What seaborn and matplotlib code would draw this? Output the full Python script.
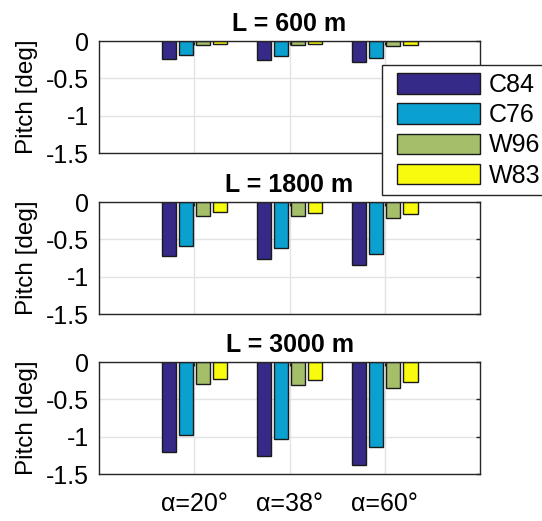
import pandas as pd
import matplotlib
matplotlib.use("Agg")
import matplotlib.pyplot as plt
import seaborn as sns
from matplotlib.patches import Patch, Rectangle

# data
angles = ["α=20°", "α=38°", "α=60°"]
series = ["C84", "C76", "W96", "W83"]
lengths = ["L = 600 m", "L = 1800 m", "L = 3000 m"]
colors = ["#352A87", "#0AA0D0", "#A5BE6A", "#F9FB0E"]

pitch_600 = [[-0.24, -0.19, -0.05, -0.035],
             [-0.25, -0.20, -0.06, -0.04],
             [-0.28, -0.23, -0.07, -0.05]]
pitch_1800 = [[-0.72, -0.59, -0.18, -0.13],
              [-0.76, -0.62, -0.19, -0.14],
              [-0.84, -0.69, -0.21, -0.16]]
pitch_3000 = [[-1.20, -0.98, -0.30, -0.23],
              [-1.26, -1.03, -0.31, -0.24],
              [-1.38, -1.14, -0.35, -0.26]]

panels = [pitch_600, pitch_1800, pitch_3000]

sns.set_theme(style="white")
plt.rcParams['font.family'] = ['Liberation Sans', 'DejaVu Sans']
plt.rcParams['axes.unicode_minus'] = False
plt.rcParams['text.color'] = 'black'
plt.rcParams['axes.labelcolor'] = 'black'

fig = plt.figure(figsize=(5.42, 5.21), dpi=100)
bottoms = [0.7063, 0.397, 0.090]
axes = [fig.add_axes([0.1827, b, 0.703, 0.215]) for b in bottoms]

for i, ax in enumerate(axes):
    rows = []
    for a, vals in zip(angles, panels[i]):
        for s, v in zip(series, vals):
            rows.append({"angle": a, "series": s, "pitch": v})
    df = pd.DataFrame(rows)
    ax.set_axisbelow(True)
    sns.barplot(data=df, x="angle", y="pitch", hue="series", order=angles,
                hue_order=series, palette=colors, width=0.72, gap=0.18,
                edgecolor="#1a1a1a", linewidth=1, saturation=1,
                legend=False, ax=ax)
    ax.grid(True, axis="both", color="#e3e3e3", linewidth=1)
    ax.set_xlim(-1, 3)
    ax.set_ylim(-1.5, 0)
    ax.set_yticks([0, -0.5, -1, -1.5])
    ax.set_yticklabels(["0", "-0.5", "-1", "-1.5"])
    ax.set_xlabel("")
    ax.set_ylabel("Pitch [deg]", fontsize=17.5, labelpad=6)
    ax.set_title(lengths[i], fontsize=18, fontweight="bold", pad=7.5)
    ax.tick_params(direction="in", length=3, width=1, colors="#262626",
                   top=True, right=True, labelsize=18)
    ax.tick_params(axis="y", pad=7)
    ax.tick_params(axis="x", pad=13)
    for sp in ax.spines.values():
        sp.set_color("#262626")
        sp.set_linewidth(1)
    if i < 2:
        ax.set_xticklabels([])
    for lab in ax.get_xticklabels() + ax.get_yticklabels():
        lab.set_color("black")

# legend box runs off the right edge of the figure, as in the original
frame = Rectangle((382 / 542, 1 - 195 / 521), 0.4, 130 / 521,
                  transform=fig.transFigure, facecolor="white",
                  edgecolor="#262626", linewidth=1, zorder=4)
fig.add_artist(frame)

handles = [Patch(facecolor=c, edgecolor="#1a1a1a", linewidth=1, label=s)
           for c, s in zip(colors, series)]
leg = fig.legend(handles=handles, loc="upper left",
                 bbox_to_anchor=(397 / 542, 1 - 73 / 521), fontsize=18,
                 frameon=False, handlelength=3.3, handleheight=0.88,
                 handletextpad=0.36, labelspacing=0.25, borderpad=0,
                 borderaxespad=0)
leg.set_zorder(5)

fig.savefig("out.png", dpi=100)
